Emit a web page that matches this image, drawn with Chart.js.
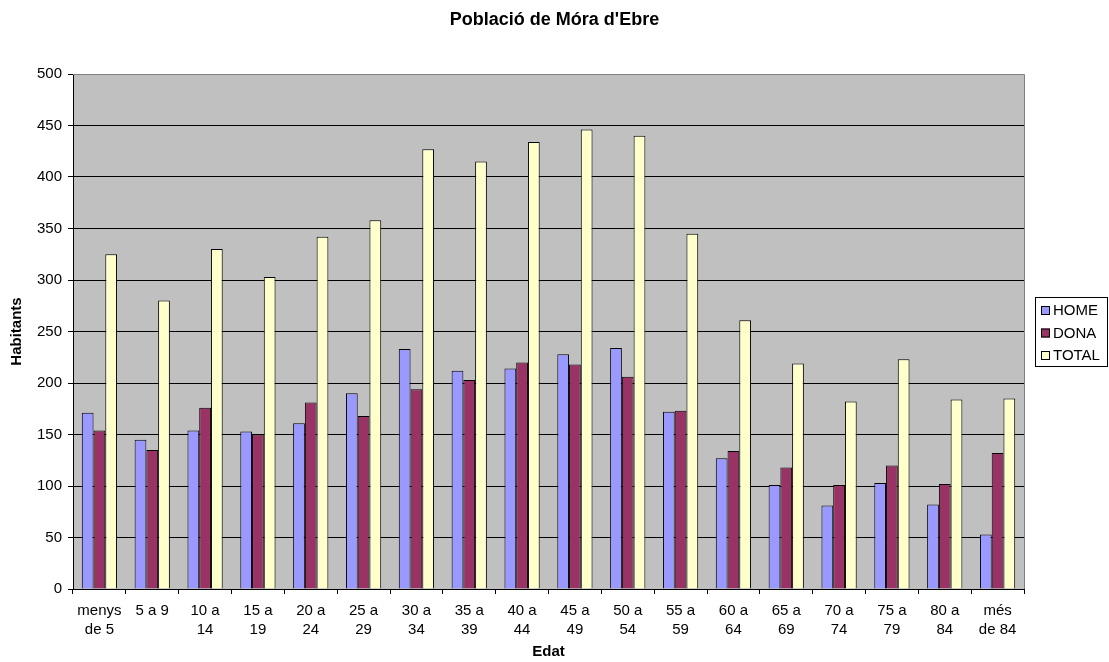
<!DOCTYPE html>
<html>
<head>
<meta charset="utf-8">
<title>Població de Móra d'Ebre</title>
<script src="https://cdn.jsdelivr.net/npm/chart.js@4/dist/chart.umd.min.js"></script>
<style>
  html, body { margin: 0; padding: 0; background: #ffffff; }
  #wrap { width: 1109px; height: 662px; }
</style>
</head>
<body>
<div id="wrap"><canvas id="theChart" width="1109" height="662"></canvas></div>
<script>
var categories = [['menys', 'de 5'], ['5 a 9'], ['10 a', '14'], ['15 a', '19'], ['20 a', '24'], ['25 a', '29'],
    ['30 a', '34'], ['35 a', '39'], ['40 a', '44'], ['45 a', '49'], ['50 a', '54'], ['55 a', '59'],
    ['60 a', '64'], ['65 a', '69'], ['70 a', '74'], ['75 a', '79'], ['80 a', '84'], ['més', 'de 84']];
var home = [171, 145, 154, 153, 161, 190, 233, 212, 214, 228, 234, 172, 127, 101, 81, 103, 82, 53];
var dona = [154, 135, 176, 150, 181, 168, 194, 203, 220, 218, 206, 173, 134, 118, 101, 120, 102, 132];
var total = [325, 280, 330, 303, 342, 358, 427, 415, 434, 446, 440, 345, 261, 219, 182, 223, 184, 185];
var seriesNames = ['HOME', 'DONA', 'TOTAL'];
var yTicks = [0, 50, 100, 150, 200, 250, 300, 350, 400, 450, 500];

var FONT = "'Liberation Sans', Arial, sans-serif";

// plot background, gray frame on top/right, and the boxed legend
var excelLook = {
    id: 'excelLook',
    beforeDraw: function (chart) {
        var a = chart.chartArea;
        var ctx = chart.ctx;
        ctx.save();
        ctx.fillStyle = '#c0c0c0';
        ctx.fillRect(a.left, a.top, a.right - a.left, a.bottom - a.top);
        ctx.restore();
    },
    afterDraw: function (chart) {
        var a = chart.chartArea;
        var ctx = chart.ctx;
        ctx.save();
        ctx.strokeStyle = '#808080';
        ctx.lineWidth = 1;
        ctx.beginPath();
        ctx.moveTo(a.left, a.top + 0.5);
        ctx.lineTo(a.right + 0.5, a.top + 0.5);
        ctx.lineTo(a.right + 0.5, a.bottom);
        ctx.stroke();

        // legend
        var lx = 1035, ly = 297, lw = 72, lh = 69;
        ctx.fillStyle = '#ffffff';
        ctx.fillRect(lx, ly, lw, lh);
        ctx.strokeStyle = '#000000';
        ctx.strokeRect(lx + 0.5, ly + 0.5, lw, lh);
        ctx.font = '15px ' + FONT;
        ctx.textBaseline = 'middle';
        chart.data.datasets.forEach(function (ds, i) {
            var cy = 310 + i * 22.5;
            ctx.fillStyle = ds.backgroundColor;
            ctx.fillRect(lx + 6, cy - 4, 9, 9);
            ctx.strokeStyle = '#000000';
            ctx.strokeRect(lx + 6.5, cy - 3.5, 8, 8);
            ctx.fillStyle = '#000000';
            ctx.fillText(ds.label, lx + 18, cy + 1);
        });
        ctx.restore();
    }
};

var ctx = document.getElementById('theChart').getContext('2d');
var chart = new Chart(ctx, {
    type: 'bar',
    data: {
        labels: categories,
        datasets: [
            { label: seriesNames[0], data: home, backgroundColor: '#9999ff' },
            { label: seriesNames[1], data: dona, backgroundColor: '#993366' },
            { label: seriesNames[2], data: total, backgroundColor: '#ffffcc' }
        ]
    },
    options: {
        responsive: false,
        animation: false,
        layout: { padding: 0 },
        datasets: {
            bar: {
                borderColor: '#000000',
                borderWidth: 1,
                barPercentage: 1,
                categoryPercentage: 0.667
            }
        },
        plugins: {
            legend: { display: false },
            tooltip: { enabled: false },
            title: {
                display: true,
                text: "Població de Móra d'Ebre",
                color: '#000000',
                font: { family: FONT, size: 18, weight: 'bold', lineHeight: 1.2 },
                padding: { top: 9.2, bottom: 43.2 }
            }
        },
        scales: {
            x: {
                afterFit: function (scale) { scale.height = 73; },
                grid: {
                    offset: true,
                    drawOnChartArea: false,
                    drawTicks: true,
                    tickLength: 5,
                    color: '#000000'
                },
                border: { color: '#000000', width: 1 },
                ticks: {
                    color: '#000000',
                    font: { family: FONT, size: 15, lineHeight: 1.22 },
                    padding: 8,
                    maxRotation: 0,
                    autoSkip: false
                },
                title: {
                    display: true,
                    text: 'Edat',
                    color: '#000000',
                    font: { family: FONT, size: 15, weight: 'bold', lineHeight: 1.2 },
                    padding: { top: 0, bottom: 1 }
                }
            },
            y: {
                min: 0,
                max: 500,
                afterFit: function (scale) { scale.width = 73; },
                afterBuildTicks: function (scale) {
                    scale.ticks = yTicks.map(function (v) { return { value: v }; });
                },
                grid: {
                    color: function (c) { return c.tick && c.tick.value === 500 ? '#808080' : '#000000'; },
                    drawTicks: true,
                    tickLength: 5,
                    tickColor: '#000000'
                },
                border: { color: '#000000', width: 1 },
                ticks: {
                    color: '#000000',
                    font: { family: FONT, size: 15 },
                    padding: 6
                },
                title: {
                    display: true,
                    text: 'Habitants',
                    color: '#000000',
                    font: { family: FONT, size: 15, weight: 'bold', lineHeight: 1.2 },
                    padding: { top: 8, bottom: 0 }
                }
            },
            // empty right-hand axis that only keeps room for the legend
            side: {
                type: 'linear',
                position: 'right',
                display: true,
                afterFit: function (scale) { scale.width = 85; },
                grid: { drawOnChartArea: false, drawTicks: false },
                border: { display: false },
                ticks: { display: false }
            }
        }
    },
    plugins: [excelLook]
});
</script>
</body>
</html>
